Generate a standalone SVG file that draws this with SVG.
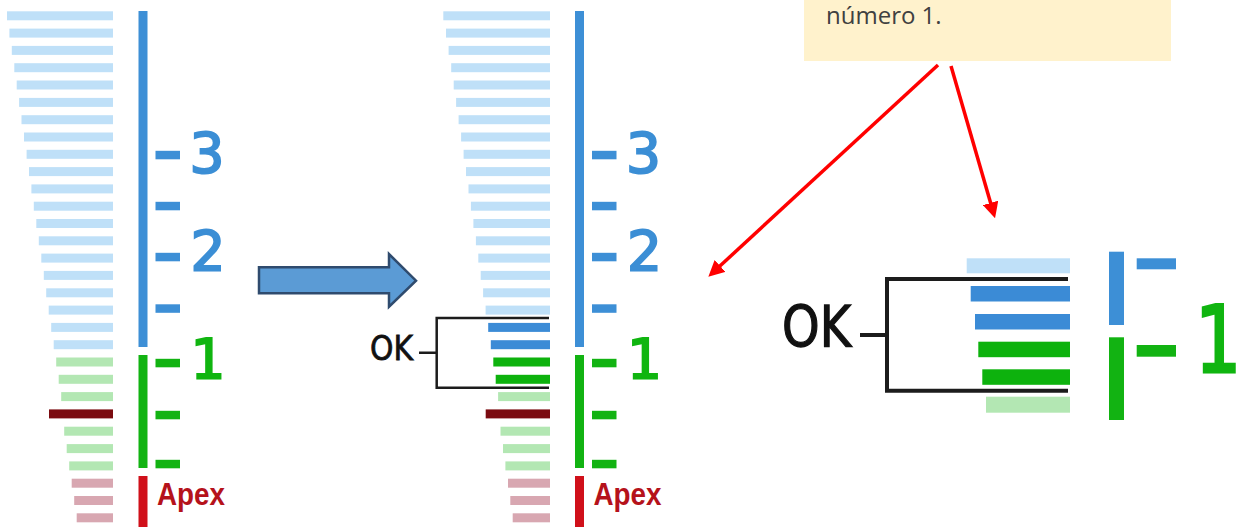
<svg xmlns="http://www.w3.org/2000/svg" width="1242" height="527" viewBox="0 0 1242 527">
<defs>
<style>
.lb{fill:#bfe0f8}
.lg{fill:#b3e7b3}
.pk{fill:#d8a7b1}
.dr{fill:#7b0b10}
.db{fill:#3b8bd6}
.dg{fill:#0db20d}
.vb{fill:#3d8fd6}
.vg{fill:#12b312}
.vr{fill:#d0101a}
.nb{font-family:"DejaVu Sans",sans-serif;font-size:55px;fill:#3b8ed5;stroke:#3b8ed5;stroke-width:2;text-anchor:middle}
.ng{font-family:"DejaVu Sans",sans-serif;font-size:55px;fill:#10b510;stroke:#10b510;stroke-width:2;text-anchor:middle}
.big{font-size:92px;stroke-width:3;text-anchor:start}
.apex{font-family:"Liberation Sans",sans-serif;font-weight:bold;font-size:32px;fill:#b5121b}
.ok{font-family:"DejaVu Sans",sans-serif;fill:#111;stroke:#111}
.br{fill:none;stroke:#1c1c1c}
.red{stroke:#ff0000;stroke-width:3.5;fill:none}
.note{font-family:"Open Sans",sans-serif;font-size:24px;fill:#404040}
</style>
<marker id="ah" viewBox="0 0 16 16" refX="8" refY="8" markerWidth="16" markerHeight="16" markerUnits="userSpaceOnUse" orient="auto">
<path d="M0,0 L16,8 L0,16 z" fill="#ff0000"/>
</marker>
</defs>
<rect width="1242" height="527" fill="#fff"/>

<g id="ruler-left">
<rect class="lb" x="7.0" y="11.3" width="106.0" height="9"/>
<rect class="lb" x="9.4" y="28.6" width="103.6" height="9"/>
<rect class="lb" x="11.8" y="45.9" width="101.2" height="9"/>
<rect class="lb" x="14.3" y="63.2" width="98.7" height="9"/>
<rect class="lb" x="16.7" y="80.5" width="96.3" height="9"/>
<rect class="lb" x="19.1" y="97.9" width="93.9" height="9"/>
<rect class="lb" x="21.5" y="115.2" width="91.5" height="9"/>
<rect class="lb" x="24.0" y="132.5" width="89.0" height="9"/>
<rect class="lb" x="26.6" y="149.8" width="86.4" height="9"/>
<rect class="lb" x="29.0" y="167.1" width="84.0" height="9"/>
<rect class="lb" x="31.4" y="184.4" width="81.6" height="9"/>
<rect class="lb" x="33.8" y="201.7" width="79.2" height="9"/>
<rect class="lb" x="36.3" y="219.0" width="76.7" height="9"/>
<rect class="lb" x="38.8" y="236.3" width="74.2" height="9"/>
<rect class="lb" x="41.3" y="253.6" width="71.7" height="9"/>
<rect class="lb" x="43.8" y="270.9" width="69.2" height="9"/>
<rect class="lb" x="46.2" y="288.3" width="66.8" height="9"/>
<rect class="lb" x="48.7" y="305.6" width="64.3" height="9"/>
<rect class="lb" x="51.2" y="322.9" width="61.8" height="9"/>
<rect class="lb" x="53.7" y="340.2" width="59.3" height="9"/>
<rect class="lg" x="56.2" y="357.5" width="56.8" height="9"/>
<rect class="lg" x="58.7" y="374.8" width="54.3" height="9"/>
<rect class="lg" x="61.2" y="392.1" width="51.8" height="9"/>
<rect class="dr" x="49.0" y="409.4" width="64.0" height="9"/>
<rect class="lg" x="64.2" y="426.7" width="48.8" height="9"/>
<rect class="lg" x="66.7" y="444.1" width="46.3" height="9"/>
<rect class="lg" x="69.2" y="461.4" width="43.8" height="9"/>
<rect class="pk" x="71.7" y="478.7" width="41.3" height="9"/>
<rect class="pk" x="74.2" y="496.0" width="38.8" height="9"/>
<rect class="pk" x="76.7" y="513.3" width="36.3" height="9"/>
<rect class="vb" x="138.5" y="11" width="9" height="336"/>
<rect class="vg" x="138.5" y="355" width="9" height="113"/>
<rect class="vr" x="138.5" y="476" width="9" height="51"/>
<rect class="vb" x="155.5" y="150.8" width="24.5" height="8.5"/>
<rect class="vb" x="155.5" y="201.8" width="24.5" height="8.5"/>
<rect class="vb" x="155.5" y="252.8" width="24.5" height="8.5"/>
<rect class="vb" x="155.5" y="304.3" width="24.5" height="8.5"/>
<rect class="vg" x="155.5" y="358.8" width="24.5" height="8.5"/>
<rect class="vg" x="155.5" y="410.8" width="24.5" height="8.5"/>
<rect class="vg" x="155.5" y="459.8" width="24.5" height="8.5"/>
<text class="nb" x="207" y="172">3</text>
<text class="nb" x="208" y="270">2</text>
<text class="ng" x="208" y="378">1</text>
<text class="apex" x="157" y="505" textLength="68" lengthAdjust="spacingAndGlyphs">Apex</text>
</g>

<g id="block-arrow">
<polygon points="259,267.3 389,267.3 389,254 416,280.7 389,306.7 389,293.3 259,293.3" fill="#5b9bd5" stroke="#2f4b6e" stroke-width="2.5" stroke-linejoin="miter"/>
</g>

<g id="ruler-middle">
<rect class="lb" x="443.3" y="11.3" width="106.7" height="9"/>
<rect class="lb" x="446.0" y="28.6" width="104.0" height="9"/>
<rect class="lb" x="448.6" y="45.9" width="101.4" height="9"/>
<rect class="lb" x="451.2" y="63.2" width="98.8" height="9"/>
<rect class="lb" x="453.7" y="80.5" width="96.3" height="9"/>
<rect class="lb" x="456.1" y="97.9" width="93.9" height="9"/>
<rect class="lb" x="458.6" y="115.2" width="91.4" height="9"/>
<rect class="lb" x="461.1" y="132.5" width="88.9" height="9"/>
<rect class="lb" x="463.6" y="149.8" width="86.4" height="9"/>
<rect class="lb" x="466.0" y="167.1" width="84.0" height="9"/>
<rect class="lb" x="468.5" y="184.4" width="81.5" height="9"/>
<rect class="lb" x="470.9" y="201.7" width="79.1" height="9"/>
<rect class="lb" x="473.4" y="219.0" width="76.6" height="9"/>
<rect class="lb" x="475.9" y="236.3" width="74.1" height="9"/>
<rect class="lb" x="478.3" y="253.6" width="71.7" height="9"/>
<rect class="lb" x="480.7" y="270.9" width="69.3" height="9"/>
<rect class="lb" x="483.1" y="288.3" width="66.9" height="9"/>
<rect class="lb" x="485.6" y="305.6" width="64.4" height="9"/>
<rect class="db" x="488.2" y="322.9" width="61.8" height="9"/>
<rect class="db" x="490.8" y="340.2" width="59.2" height="9"/>
<rect class="dg" x="493.3" y="357.5" width="56.7" height="9"/>
<rect class="dg" x="495.7" y="374.8" width="54.3" height="9"/>
<rect class="lg" x="498.1" y="392.1" width="51.9" height="9"/>
<rect class="dr" x="485.7" y="409.4" width="64.3" height="9"/>
<rect class="lg" x="500.5" y="426.7" width="49.5" height="9"/>
<rect class="lg" x="503.0" y="444.1" width="47.0" height="9"/>
<rect class="lg" x="505.4" y="461.4" width="44.6" height="9"/>
<rect class="pk" x="508.0" y="478.7" width="42.0" height="9"/>
<rect class="pk" x="510.3" y="496.0" width="39.7" height="9"/>
<rect class="pk" x="512.7" y="513.3" width="37.3" height="9"/>
<rect class="vb" x="575" y="11" width="9" height="336"/>
<rect class="vg" x="575" y="355" width="9" height="113"/>
<rect class="vr" x="575" y="476" width="9" height="51"/>
<rect class="vb" x="592" y="150.8" width="24.5" height="8.5"/>
<rect class="vb" x="592" y="201.8" width="24.5" height="8.5"/>
<rect class="vb" x="592" y="252.8" width="24.5" height="8.5"/>
<rect class="vb" x="592" y="304.3" width="24.5" height="8.5"/>
<rect class="vg" x="592" y="358.8" width="24.5" height="8.5"/>
<rect class="vg" x="592" y="410.8" width="24.5" height="8.5"/>
<rect class="vg" x="592" y="459.8" width="24.5" height="8.5"/>
<text class="nb" x="643.5" y="172">3</text>
<text class="nb" x="644.5" y="270">2</text>
<text class="ng" x="644.5" y="378">1</text>
<text class="apex" x="593.5" y="505" textLength="68" lengthAdjust="spacingAndGlyphs">Apex</text>
<path class="br" stroke-width="2.5" d="M549,318 H436.7 V387.7 H549 M419,352.7 H436.7"/>
<text class="ok" x="370" y="360" font-size="34" stroke-width="0.8" textLength="43" lengthAdjust="spacingAndGlyphs">OK</text>
</g>

<g id="note">
<rect x="804" y="-10" width="367" height="71" fill="#fff2cc"/>
<text class="note" x="826" y="24">número 1.</text>
</g>

<g id="zoom-detail">
<rect class="lb" x="966.7" y="258.3" width="103.3" height="15"/>
<rect class="db" x="970.7" y="286" width="99.3" height="15.5"/>
<rect class="db" x="975" y="314" width="95" height="15.5"/>
<rect class="dg" x="978.3" y="341.7" width="91.7" height="15.5"/>
<rect class="dg" x="982.3" y="369.3" width="87.7" height="15.5"/>
<rect class="lg" x="986" y="396.7" width="84" height="16"/>
<path class="br" stroke-width="4" d="M1068,279 H887 V390.7 H1068 M860,335 H887"/>
<text class="ok" x="782" y="346.7" font-size="57" stroke-width="1.3" textLength="69" lengthAdjust="spacingAndGlyphs">OK</text>
<rect class="vb" x="1109" y="251.7" width="15" height="73.3"/>
<rect class="vg" x="1109" y="337.3" width="15" height="82.7"/>
<rect class="vb" x="1136.7" y="258.3" width="39.3" height="11"/>
<rect class="vg" x="1136.7" y="345" width="39.3" height="11.7"/>
<text class="ng big" transform="translate(1195,372) scale(0.79,1)" x="0" y="0">1</text>
</g>

<g id="connectors">
<line class="red" x1="938" y1="65" x2="714.2" y2="271.3" marker-end="url(#ah)"/>
<line class="red" x1="951" y1="66" x2="992.8" y2="210.6" marker-end="url(#ah)"/>
</g>
</svg>
